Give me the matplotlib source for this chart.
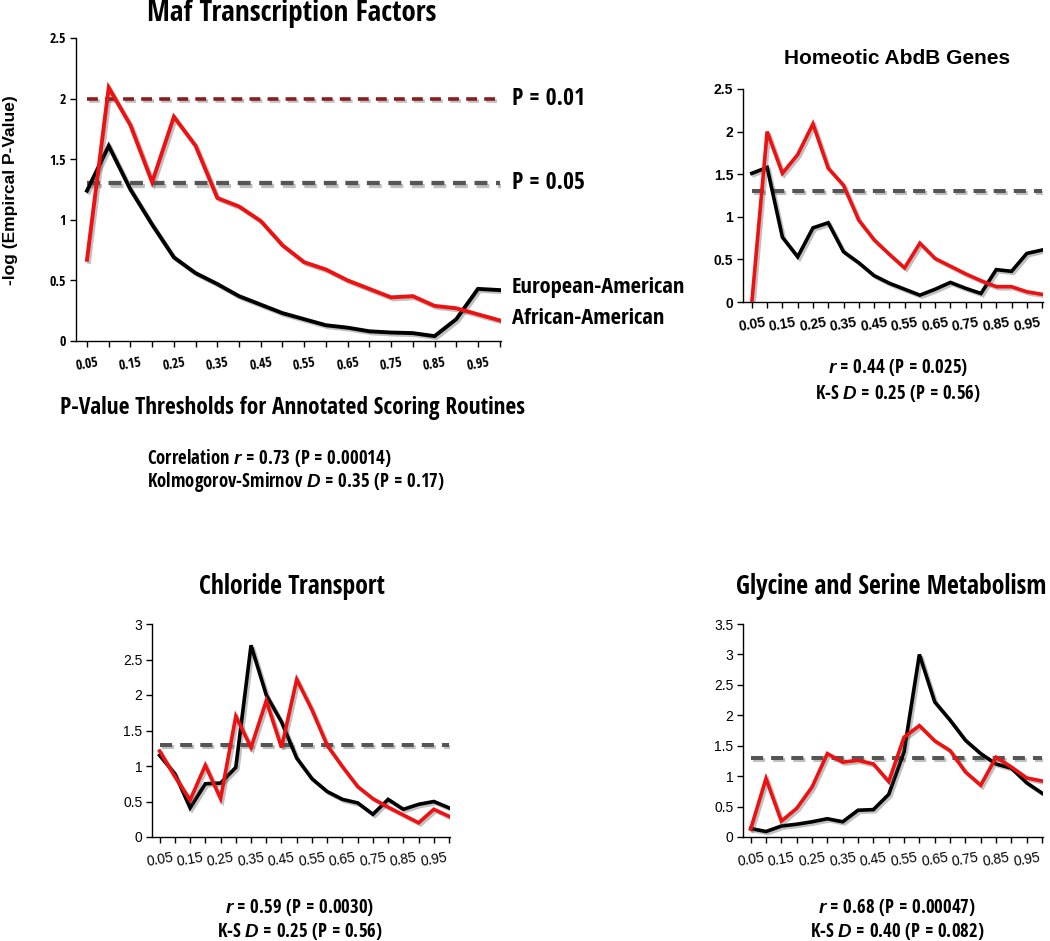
import numpy as np
import matplotlib
matplotlib.use("Agg")
import matplotlib.pyplot as plt
import matplotlib.patheffects as pe

NARROW = ["Open Sans Condensed", "Roboto Condensed", "Liberation Sans Narrow",
          "DejaVu Sans"]
WIDE = ["Liberation Sans", "DejaVu Sans"]
plt.rcParams["font.family"] = NARROW
plt.rcParams["mathtext.fontset"] = "custom"
plt.rcParams["mathtext.rm"] = "Liberation Sans:bold"
plt.rcParams["mathtext.it"] = "Liberation Sans:italic:bold"

# p-value thresholds (x axis)
thresholds = [0.05, 0.10, 0.15, 0.20, 0.25, 0.30, 0.35, 0.40, 0.45, 0.50,
              0.55, 0.60, 0.65, 0.70, 0.75, 0.80, 0.85, 0.90, 0.95, 1.00]
tick_labels = ["0.05", "0.15", "0.25", "0.35", "0.45",
               "0.55", "0.65", "0.75", "0.85", "0.95"]

# Maf Transcription Factors
maf_aa = [0.67, 2.09, 1.78, 1.31, 1.85, 1.61, 1.18, 1.11, 0.99, 0.79,
          0.65, 0.59, 0.50, 0.43, 0.36, 0.37, 0.29, 0.27, 0.22, 0.17]
maf_ea = [1.24, 1.61, 1.25, 0.96, 0.69, 0.56, 0.47, 0.37, 0.30, 0.23,
          0.18, 0.13, 0.11, 0.08, 0.07, 0.065, 0.04, 0.18, 0.43, 0.42]

# Homeotic AbdB Genes
hom_aa = [0.0, 2.0, 1.51, 1.73, 2.09, 1.57, 1.37, 0.96, 0.73, 0.56,
          0.40, 0.69, 0.51, 0.42, 0.33, 0.25, 0.18, 0.18, 0.12, 0.09]
hom_ea = [1.51, 1.58, 0.76, 0.53, 0.87, 0.93, 0.59, 0.46, 0.31, 0.22,
          0.15, 0.08, 0.15, 0.23, 0.16, 0.10, 0.38, 0.36, 0.57, 0.61]

# Chloride Transport
chl_aa = [1.21, 0.85, 0.52, 1.01, 0.54, 1.70, 1.26, 1.92, 1.26, 2.22,
          1.79, 1.29, 0.99, 0.71, 0.54, 0.42, 0.31, 0.20, 0.39, 0.29]
chl_ea = [1.15, 0.89, 0.41, 0.75, 0.76, 0.98, 2.70, 2.00, 1.62, 1.11,
          0.82, 0.64, 0.53, 0.48, 0.32, 0.53, 0.39, 0.46, 0.50, 0.41]

# Glycine and Serine Metabolism
gly_aa = [0.13, 0.96, 0.26, 0.47, 0.82, 1.37, 1.23, 1.26, 1.20, 0.91,
          1.64, 1.83, 1.58, 1.42, 1.07, 0.85, 1.31, 1.15, 0.97, 0.92]
gly_ea = [0.14, 0.09, 0.18, 0.21, 0.25, 0.30, 0.25, 0.44, 0.45, 0.70,
          1.40, 3.00, 2.22, 1.92, 1.59, 1.37, 1.20, 1.13, 0.89, 0.72]

P05 = 1.3
P01 = 2.0

W, H = 1050, 941
fig = plt.figure(figsize=(W / 100, H / 100), dpi=100)


def box(l, t, r, b):
    return [l / W, 1 - b / H, (r - l) / W, (b - t) / H]


def ftext(x, y, s, **kw):
    fig.text(x / W, 1 - y / H, s, **kw)


shadow = [pe.SimpleLineShadow(offset=(1.5, -1.5), shadow_color="0.3", alpha=0.35),
          pe.Normal()]


def panel(rect, aa, ea, ymax, ystep, lw=2.6, tick_font=None, ytick_size=9.5,
          xtick_size=9.5, bold=False, xlo=0.025):
    ax = fig.add_axes(rect)
    ax.plot([thresholds[0], thresholds[-1]], [P05, P05], color="#555555",
            lw=lw + 0.3, ls=(0, (3.0, 2.0)), path_effects=shadow, zorder=1)
    ax.plot(thresholds, aa, color="#ee1111", lw=lw, path_effects=shadow,
            solid_joinstyle="miter", zorder=3)
    ax.plot(thresholds, ea, color="black", lw=lw, path_effects=shadow,
            solid_joinstyle="miter", zorder=2)
    ax.set_xlim(xlo, 1.003)
    ax.set_ylim(0, ymax)
    yt = np.arange(0, ymax + 0.001, ystep)
    ax.set_yticks(yt)
    ax.set_yticklabels([f"{v:g}" for v in yt], fontsize=ytick_size,
                       fontweight="bold" if bold else "normal",
                       family=tick_font or NARROW)
    ax.set_xticks(thresholds)
    labs = [tick_labels[i // 2] if i % 2 == 0 else "" for i in range(len(thresholds))]
    ax.set_xticklabels(labs, rotation=10, fontsize=xtick_size,
                       fontweight="bold" if bold else "normal",
                       family=tick_font or NARROW)
    ax.tick_params(axis="both", direction="out", length=4, width=1, pad=3)
    ax.tick_params(axis="x", pad=6)
    for s in ("top", "right"):
        ax.spines[s].set_visible(False)
    for s in ("left", "bottom"):
        ax.spines[s].set_linewidth(1.0)
    ax.patch.set_alpha(0)
    return ax


# --- Maf Transcription Factors (large panel) ---
ax = panel(box(76, 38, 501, 341), maf_aa, maf_ea, 2.5, 0.5, lw=2.8,
           ytick_size=10, xtick_size=10, xlo=0.0247)
ax.plot([thresholds[0], thresholds[-1]], [P01, P01], color="#8b1c1c", lw=2.6,
        ls=(0, (3.0, 2.0)), path_effects=shadow, zorder=1)
ftext(292, 13, "Maf Transcription Factors", ha="center", va="center",
      fontsize=21, fontweight="bold")
ftext(11, 190, "-log (Empircal P-Value)", ha="center", va="center",
      rotation=90, fontsize=12.5, fontweight="bold", family=WIDE)
ftext(512, 99, "P = 0.01", ha="left", va="center", fontsize=17, fontweight="bold")
ftext(512, 183, "P = 0.05", ha="left", va="center", fontsize=17, fontweight="bold")
ftext(512, 288, "European-American", ha="left", va="center", fontsize=16.2,
      fontweight="bold")
ftext(512, 319, "African-American", ha="left", va="center", fontsize=16.2,
      fontweight="bold")
ftext(292, 408, "P-Value Thresholds for Annotated Scoring Routines", ha="center",
      va="center", fontsize=16.8, fontweight="bold")
ftext(147, 458, r"Correlation $\it{r}$ = 0.73 (P = 0.00014)", ha="left",
      va="center", fontsize=13.5, fontweight="bold")
ftext(147, 482, r"Kolmogorov-Smirnov $\it{D}$ = 0.35 (P = 0.17)", ha="left",
      va="center", fontsize=13.5, fontweight="bold")

# --- Homeotic AbdB Genes ---
panel(box(743, 89, 1043, 302), hom_aa, hom_ea, 2.5, 0.5, lw=2.6,
      tick_font=WIDE, ytick_size=10, xtick_size=10, bold=True, xlo=0.021)
ftext(897, 58, "Homeotic AbdB Genes", ha="center", va="center", fontsize=15,
      fontweight="bold", family=WIDE)
ftext(898, 367, r"$\it{r}$ = 0.44 (P = 0.025)", ha="center", va="center",
      fontsize=13.5, fontweight="bold")
ftext(898, 393, r"K-S $\it{D}$ = 0.25 (P = 0.56)", ha="center", va="center",
      fontsize=13.5, fontweight="bold")

# --- Chloride Transport ---
panel(box(152, 624, 450, 837), chl_aa, chl_ea, 3.0, 0.5, lw=2.6,
      tick_font=WIDE, ytick_size=10, xtick_size=10)
ftext(292, 587, "Chloride Transport", ha="center", va="center", fontsize=18.5,
      fontweight="bold")
ftext(300, 907, r"$\it{r}$ = 0.59 (P = 0.0030)", ha="center", va="center",
      fontsize=13.5, fontweight="bold")
ftext(300, 932, r"K-S $\it{D}$ = 0.25 (P = 0.56)", ha="center", va="center",
      fontsize=13.5, fontweight="bold")

# --- Glycine and Serine Metabolism ---
panel(box(743, 624, 1043, 837), gly_aa, gly_ea, 3.5, 0.5, lw=2.6,
      tick_font=WIDE, ytick_size=10, xtick_size=10)
ftext(891, 587, "Glycine and Serine Metabolism", ha="center", va="center",
      fontsize=18.5, fontweight="bold")
ftext(897, 907, r"$\it{r}$ = 0.68 (P = 0.00047)", ha="center", va="center",
      fontsize=13.5, fontweight="bold")
ftext(897, 932, r"K-S $\it{D}$ = 0.40 (P = 0.082)", ha="center", va="center",
      fontsize=13.5, fontweight="bold")

fig.savefig("out.png", dpi=100)
